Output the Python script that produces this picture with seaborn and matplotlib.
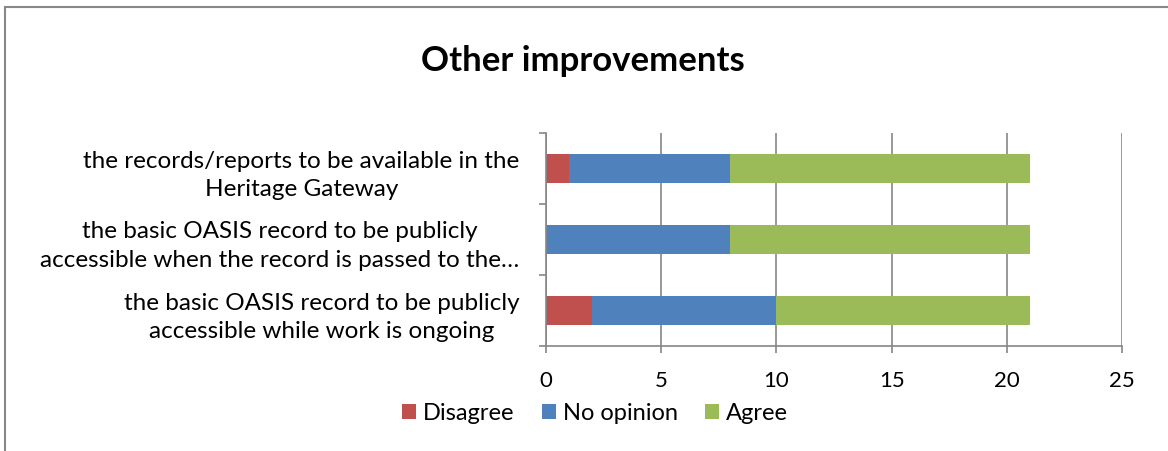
import matplotlib
matplotlib.use("Agg")
import matplotlib.pyplot as plt
import seaborn as sns
import pandas as pd
from matplotlib.patches import Rectangle

categories = [
    "the records/reports to be available in the\nHeritage Gateway",
    "the basic OASIS record to be publicly\naccessible when the record is passed to the…",
    "the basic OASIS record to be publicly\naccessible while work is ongoing",
]
disagree = [1, 0, 2]
no_opinion = [7, 8, 8]
agree = [13, 13, 11]
series_names = ["Disagree", "No opinion", "Agree"]
colors = ["#C0504D", "#4F81BD", "#9BBB59"]
x_ticks = [0, 5, 10, 15, 20, 25]

sns.set_theme(style="white")
plt.rcParams["font.family"] = ["Lato", "DejaVu Sans"]
plt.rcParams["text.color"] = "#000000"

fig = plt.figure(figsize=(11.68, 4.52), dpi=100)
ax = fig.add_axes([546/1168, 1-347/452, (1122-546)/1168, (347-134)/452])

df = pd.DataFrame({"cat": categories, "Disagree": disagree,
                   "No opinion": no_opinion, "Agree": agree})
left = [0]*len(categories)
for name, col in zip(series_names, colors):
    vals = df[name].tolist()
    sns.barplot(x=vals, y=df["cat"], left=left, color=col, orient="h",
                width=0.4, ax=ax, label=name, linewidth=0, saturation=1)
    left = [l + v for l, v in zip(left, vals)]

ax.set_xlim(0, 25)
ax.set_ylim(2.5, -0.5)
ax.set_xticks(x_ticks)
ax.set_xticklabels([str(t) for t in x_ticks], fontsize=16, color="#000000")
ax.set_yticks([-0.5, 0.5, 1.5, 2.5], minor=False)
ax.set_yticklabels([])
ax.set_yticks([0, 1, 2], minor=True)
ax.set_yticklabels(categories, minor=True, fontsize=17.5, color="#000000",
                   ha="right", multialignment="center", linespacing=1.45)
ax.tick_params(axis="y", which="minor", length=0, pad=19)
ax.tick_params(axis="y", which="major", length=5, color="#868686", width=1.2, direction="out", left=True)
ax.tick_params(axis="x", length=5, color="#868686", width=1.2, direction="out", bottom=True, pad=12)
ax.set_xlabel("")
ax.set_ylabel("")
ax.xaxis.grid(True, color="#868686", linewidth=1.2)
ax.set_axisbelow(True)
for s in ["top", "right"]:
    ax.spines[s].set_visible(False)
for s in ["left", "bottom"]:
    ax.spines[s].set_color("#868686")
    ax.spines[s].set_linewidth(1.2)

leg = ax.legend(loc="center", bbox_to_anchor=(595/1168, 1-414/452),
                bbox_transform=fig.transFigure, ncol=3, frameon=False,
                fontsize=17, handlelength=0.6, handleheight=0.6,
                handletextpad=0.3, columnspacing=1.15)
for t in leg.get_texts():
    t.set_color("#000000")

fig.text(583/1168, 1-61/452, "Other improvements", ha="center", va="center",
         fontsize=25, fontweight="bold", color="#000000")

fig.patches.append(Rectangle((5/1168, -0.05), 1.2, 1-8/452 + 0.05, transform=fig.transFigure,
                             fill=False, edgecolor="#888888", linewidth=1.5))

fig.savefig("out.png", dpi=100)
